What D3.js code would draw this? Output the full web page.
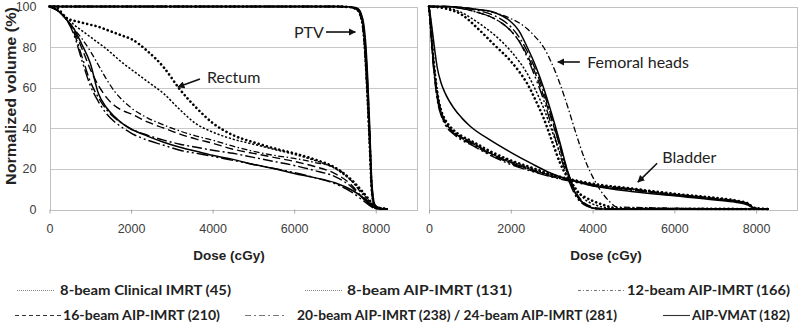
<!DOCTYPE html>
<html lang="en">
<head>
<meta charset="UTF-8">
<title>DVH comparison</title>
<script src="https://cdn.jsdelivr.net/npm/d3@7"></script>
<style>
  body { margin: 0; background: #fff; }
  svg { display: block; }
  .tick text { font-family: 'Liberation Sans', Arial, sans-serif; font-size: 12.5px; fill: #404040; }
  .axis path { display: none; }
  .xaxis line { stroke: #a6a6a6; }
  .grid line { stroke: #c8c8c8; stroke-width: 1; shape-rendering: crispEdges; }
  .frame { fill: none; stroke: #c0c0c0; shape-rendering: crispEdges; }
  .title { font-family: 'Liberation Sans', Arial, sans-serif; font-weight: bold; fill: #222; }
  .note { font-family: Lato, 'Open Sans', sans-serif; font-size: 16px; fill: #222; }
  .legend text { font-family: Lato, 'Open Sans', sans-serif; font-weight: bold; font-size: 14px; fill: #222; }
  .curve { fill: none; stroke: #000; }
</style>
</head>
<body>
<script>
// ---- data (dose in cGy, volume in %) ----
var xTicks = [0, 2000, 4000, 6000, 8000];
var yTicks = [0, 20, 40, 60, 80, 100];

var seriesKeys = ["clin8", "aip8", "b12", "b16", "b20", "b24", "vmat"];
var legendLabels = ["8-beam Clinical IMRT (45)", "8-beam AIP-IMRT (131)", "12-beam AIP-IMRT (166)",
                    "16-beam AIP-IMRT (210)", "20-beam AIP-IMRT (238) / 24-beam AIP-IMRT (281)", "AIP-VMAT (182)"];

// rectum
var rectumDose = [0, 200, 400, 600, 800, 1000, 1200, 1400, 1600, 1800, 2000, 2400, 2800, 3200, 3600, 4000, 4500, 5000, 5500, 6000, 6500, 7000, 7400, 7700, 7900, 8000, 8300];
var rectumClin8 = [100, 99, 94.5, 93, 92, 91, 90, 88.5, 87, 85.5, 84, 78, 70, 59, 50, 42.5, 36.5, 33, 30, 27.5, 24.5, 20.5, 14.5, 8, 3, 0.5, 0];
var rectumAip8  = [100, 98, 95, 91, 88, 85, 82, 79, 75.5, 72, 69, 63, 57, 49, 42, 38, 34.5, 32, 29.5, 27, 24, 20, 14, 7.5, 2.5, 0.5, 0];
var rectumB12   = [100, 98, 94, 89, 84, 78, 71, 64, 58, 53.5, 50, 45, 41.5, 38.5, 36, 34, 31, 28.5, 26.5, 25, 23, 20.5, 14, 6.5, 2, 0.3, 0];
var rectumB16   = [100, 98, 94, 88, 79, 69, 61, 55, 51, 48.5, 47, 43, 40, 37, 34.5, 32.5, 29.5, 27.5, 25.5, 23.5, 21, 17.5, 12, 5, 1.5, 0.2, 0];
var rectumB20   = [100, 98, 94, 87, 75, 63, 55, 49, 45, 42, 39.5, 36.5, 34, 32, 30.5, 29, 27.5, 25.5, 23.5, 21.5, 19, 16, 11, 5, 1.5, 0.2, 0];
var rectumB24   = [100, 98, 94, 86, 73, 61, 53, 47, 43, 40, 37.5, 34, 31.5, 29, 27.5, 26, 24, 22, 20, 18, 15.5, 12.5, 8.5, 4, 1, 0.2, 0];
var rectumVmat  = [100, 98, 94, 89, 81, 72, 57, 50, 45.5, 42, 39.5, 36, 33, 30.5, 28.5, 26.5, 24.5, 22, 20, 17.5, 15.5, 13, 9.5, 5.5, 2, 0.5, 0];

// PTV
var ptvDose = [0, 6000, 7000, 7300, 7500, 7600, 7650, 7700, 7750, 7800, 7850, 7900, 7950, 8000, 8100, 8200, 8300];
var ptvClin8 = [100, 100, 100, 99.8, 99, 97, 94, 88, 74, 55, 33, 10, 3, 1.2, 0.5, 0.2, 0];
var ptvAip8  = [100, 100, 100, 99.9, 99.3, 97.8, 95, 90, 78, 60, 37, 12, 3.5, 1.3, 0.5, 0.1, 0];
var ptvB12   = [100, 100, 100, 99.8, 98.8, 96.5, 93, 86, 71, 52, 30, 9, 2.5, 1, 0.3, 0.1, 0];
var ptvB16   = [100, 100, 100, 99.9, 99.2, 97.5, 94.5, 89, 76, 58, 35, 11, 3.2, 1.2, 0.4, 0.1, 0];
var ptvB20   = [100, 100, 100, 99.9, 99.4, 98, 95.5, 91, 80, 63, 40, 14, 4.5, 1.6, 0.6, 0.2, 0];
var ptvB24   = [100, 100, 100, 99.8, 99, 97, 93.5, 87, 73, 54, 32, 10, 3, 1.1, 0.4, 0.1, 0];
var ptvVmat  = [100, 100, 100, 99.9, 99.5, 98.3, 96, 92, 83, 66, 42, 15, 4, 1, 0.3, 0.1, 0];

// femoral heads
var femurDose = [0, 400, 800, 1200, 1600, 2000, 2200, 2400, 2600, 2800, 3000, 3200, 3400, 3600, 3800, 4000, 4200, 4400, 4600, 8300];
var femurClin8 = [100, 99, 96, 89, 81, 73, 68, 62, 54, 45, 34, 23, 15, 9, 6, 4, 2.5, 1.2, 0.3, 0];
var femurAip8  = [100, 99.5, 97, 92, 86, 78, 73, 67, 59, 50, 39, 28, 17, 10, 5, 2.5, 1.2, 0.5, 0, 0];
var femurB12   = [100, 100, 99.5, 98.5, 97, 94, 92, 89, 85, 80, 72, 62, 50, 37, 25, 16, 9, 4, 1, 0];
var femurB16   = [100, 100, 99, 97, 94, 88, 83, 76, 67, 56, 44, 31, 18, 8, 3, 1, 0.3, 0, 0, 0];
var femurB20   = [100, 100, 99.5, 98, 95.5, 90, 85, 78, 69, 58, 45, 31, 17, 7, 2.5, 0.5, 0, 0, 0, 0];
var femurB24   = [100, 100, 99, 97, 94, 88, 83, 75, 65, 54, 41, 27, 15, 6, 2, 0.5, 0, 0, 0, 0];
var femurVmat  = [100, 100, 99.5, 98.5, 97, 92.5, 88, 80, 71, 60, 47, 33, 18, 7, 2.5, 0.5, 0, 0, 0, 0];

// bladder
var bladderDose = [0, 50, 100, 150, 200, 300, 400, 600, 800, 1000, 1500, 2000, 2500, 3000, 3500, 4000, 5000, 6000, 7000, 7500, 7800, 7900, 8000, 8300];
var bladderClin8 = [100, 89, 76, 66, 58, 48.5, 44, 39, 36, 34, 28.5, 24, 20.5, 17, 14.5, 12.5, 10, 7.5, 5.5, 4.2, 2.8, 1.2, 0.4, 0];
var bladderAip8  = [100, 88, 75, 65, 57, 47.5, 43, 38.5, 35.5, 33.5, 28, 23.5, 20, 16.8, 14.3, 12.3, 9.8, 7.3, 5.3, 4, 2.6, 1, 0.3, 0];
var bladderB12   = [100, 87, 74, 64, 56, 47, 42.5, 38, 35, 33, 27.5, 23, 19.5, 16.5, 14, 12, 9.5, 7, 5, 3.8, 2.4, 1, 0.3, 0];
var bladderB16   = [100, 88, 76, 66, 58, 48, 43, 38, 35, 33, 27.5, 23, 19.5, 16.5, 14, 12, 9.6, 7.2, 5.2, 4, 2.5, 1, 0.3, 0];
var bladderB20   = [100, 87, 73, 63, 55, 46.5, 42, 37.5, 34.5, 32.5, 27, 22.5, 19, 16, 13.8, 11.8, 9.4, 7, 5, 3.8, 2.4, 1, 0.3, 0];
var bladderB24   = [100, 86, 72, 62, 54, 46, 41.5, 37, 34, 32, 26.5, 22, 18.7, 15.8, 13.5, 11.5, 9.2, 6.8, 4.9, 3.7, 2.3, 0.9, 0.3, 0];
var bladderVmat  = [100, 93, 85, 77, 70, 62, 57, 50, 45, 41, 34, 28, 22.5, 17.5, 14, 11.5, 8.5, 6.5, 4.5, 3.3, 2, 0.8, 0.2, 0];

// annotation labels, anchored in data units of their panel
var notes = [
    { panel: 0, text: "PTV",           dose: 5996, vol: 87.4, from: [6780, 87.4], to: [7500, 87.4] },
    { panel: 0, text: "Rectum",        dose: 3863, vol: 65,   from: [3690, 64.2], to: [3150, 60.2] },
    { panel: 1, text: "Femoral heads", dose: 3869, vol: 72.5, from: [3690, 72.6], to: [3150, 72.6] },
    { panel: 1, text: "Bladder",       dose: 5705, vol: 25.7, from: [5580, 22.6], to: [5110, 13.3] }
];

// ---- drawing ----
var W = 800, H = 327;
var styles = {
    clin8: { w: 2.6, dash: "0.1,4.2", cap: "round" },
    aip8:  { w: 1.5, dash: "2.2,1.8" },
    b12:   { w: 1.3, dash: "6,2.5,1.5,2.5" },
    b16:   { w: 1.4, dash: "8,4" },
    b20:   { w: 1.4, dash: "10,3,2,3" },
    b24:   { w: 1.4, dash: "12,3,2,3,2,3" },
    vmat:  { w: 1.5, dash: null }
};

function pairs(dose, vol) {
    return dose.map(function(d, i) { return [d, vol[i]]; });
}

var panels = [
    { range: [49.5, 416.5], structures: [
        { dose: rectumDose, vals: [rectumClin8, rectumAip8, rectumB12, rectumB16, rectumB20, rectumB24, rectumVmat] },
        { dose: ptvDose, vals: [ptvClin8, ptvAip8, ptvB12, ptvB16, ptvB20, ptvB24, ptvVmat] } ] },
    { range: [429, 797], structures: [
        { dose: femurDose, vals: [femurClin8, femurAip8, femurB12, femurB16, femurB20, femurB24, femurVmat] },
        { dose: bladderDose, vals: [bladderClin8, bladderAip8, bladderB12, bladderB16, bladderB20, bladderB24, bladderVmat] } ] }
];

var svg = d3.select("body").append("svg")
    .attr("width", W)
    .attr("height", H);

svg.append("defs").append("marker")
    .attr("id", "arrow")
    .attr("viewBox", "0 0 10 10")
    .attr("refX", 9).attr("refY", 5)
    .attr("markerWidth", 4.5).attr("markerHeight", 4.5)
    .attr("orient", "auto")
    .append("path")
    .attr("d", "M0,0L10,5L0,10z")
    .attr("fill", "#111");

var y = d3.scaleLinear().domain([0, 100]).range([209, 6.5]);

panels.forEach(function(p, pi) {
    var x = d3.scaleLinear().domain([0, 9000]).range(p.range);
    var g = svg.append("g");

    // gridlines
    g.append("g").attr("class", "grid")
        .selectAll("line").data(yTicks.slice(1)).enter().append("line")
        .attr("x1", p.range[0]).attr("x2", p.range[1])
        .attr("y1", function(d) { return Math.round(y(d)) + 0.5; })
        .attr("y2", function(d) { return Math.round(y(d)) + 0.5; });

    g.append("rect").attr("class", "frame")
        .attr("x", Math.round(p.range[0]) + 0.5).attr("y", Math.round(y(100)) + 0.5)
        .attr("width", Math.round(p.range[1] - p.range[0]))
        .attr("height", Math.round(y(0) - y(100)));

    var xAxis = d3.axisBottom(x).tickValues(xTicks).tickSize(4).tickPadding(11)
        .tickFormat(d3.format("d"));
    g.append("g").attr("class", "axis xaxis")
        .attr("transform", "translate(0," + (Math.round(y(0)) + 0.5) + ")")
        .call(xAxis);

    if (pi === 0) {
        var yAxis = d3.axisLeft(y).tickValues(yTicks).tickSize(0).tickPadding(13);
        g.append("g").attr("class", "axis")
            .attr("transform", "translate(" + p.range[0] + ",0)")
            .call(yAxis);
    }

    // curves
    var line = d3.line()
        .x(function(d) { return x(d[0]); })
        .y(function(d) { return y(d[1]); })
        .curve(d3.curveMonotoneX);

    p.structures.forEach(function(s) {
        s.vals.forEach(function(v, si) {
            var st = styles[seriesKeys[si]];
            g.append("path").attr("class", "curve")
                .attr("d", line(pairs(s.dose, v)))
                .attr("stroke-width", st.w)
                .attr("stroke-dasharray", st.dash)
                .attr("stroke-linecap", st.cap || "butt");
        });
    });

    // notes
    notes.filter(function(n) { return n.panel === pi; }).forEach(function(n) {
        g.append("text").attr("class", "note")
            .attr("x", x(n.dose)).attr("y", y(n.vol))
            .attr("dy", "0.35em")
            .text(n.text);
        g.append("line")
            .attr("x1", x(n.from[0])).attr("y1", y(n.from[1]))
            .attr("x2", x(n.to[0])).attr("y2", y(n.to[1]))
            .attr("stroke", "#111").attr("stroke-width", 1.6)
            .attr("marker-end", "url(#arrow)");
    });

    svg.append("text").attr("class", "title")
        .attr("x", pi === 0 ? 229 : 606).attr("y", 259.5)
        .attr("text-anchor", "middle")
        .attr("font-size", "13.5px")
        .text("Dose (cGy)");
});

svg.append("text").attr("class", "title")
    .attr("transform", "translate(16,96) rotate(-90)")
    .attr("text-anchor", "middle")
    .attr("font-size", "14px")
    .attr("textLength", 178)
    .attr("lengthAdjust", "spacingAndGlyphs")
    .text("Normalized volume (%)");

// legend
var legendPos = [
    { row: 290, x1: 17, x2: 55, tx: 60, tw: 171 },
    { row: 290, x1: 305, x2: 343, tx: 347, tw: 165 },
    { row: 290, x1: 578, x2: 625, tx: 627, tw: 163 },
    { row: 315, x1: 15, x2: 61, tx: 63, tw: 157 },
    { row: 315, x1: 245, x2: 287, tx: 297, tw: 320 },
    { row: 315, x1: 663, x2: 690, tx: 692, tw: 98 }
];
var legendDash = [
    { dash: "1,1", c: "#888" },
    { dash: "1,1", c: "#888" },
    { dash: "3,2,1,2", c: "#777" },
    { dash: "4,3", c: "#333" },
    { dash: "6,3,2,3", c: "#777" },
    { dash: null, c: "#333" }
];
var lg = svg.append("g").attr("class", "legend");
legendLabels.forEach(function(lab, i) {
    var p = legendPos[i];
    lg.append("line")
        .attr("x1", p.x1).attr("x2", p.x2)
        .attr("y1", p.row + 0.5).attr("y2", p.row + 0.5)
        .attr("stroke", legendDash[i].c).attr("stroke-width", 1.1)
        .attr("stroke-dasharray", legendDash[i].dash);
    lg.append("text")
        .attr("x", p.tx).attr("y", p.row).attr("dy", "0.35em")
        .attr("textLength", p.tw).attr("lengthAdjust", "spacingAndGlyphs")
        .text(lab);
});
</script>
</body>
</html>
